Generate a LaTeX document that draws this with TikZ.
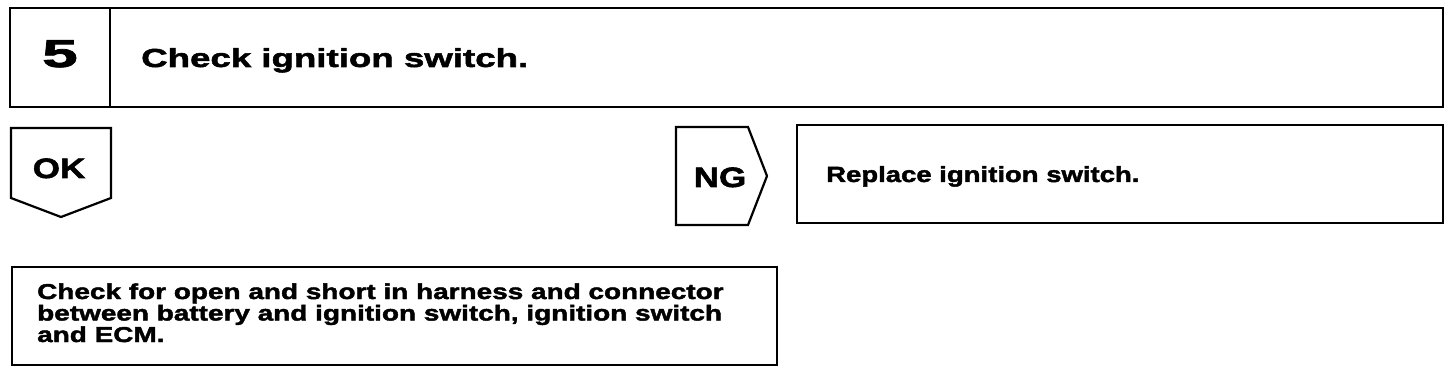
\documentclass[tikz,border=0pt]{standalone}
\usepackage{fontspec}
\setmainfont{Liberation Sans}
\newfontfamily\titlefont[FakeStretch=1.41,BoldFeatures={FakeBold=2}]{Liberation Sans}
\newfontfamily\fivefont[FakeStretch=1.65,BoldFeatures={FakeBold=2}]{Liberation Sans}
\newfontfamily\markfont[FakeStretch=1.25,BoldFeatures={FakeBold=2}]{Liberation Sans}
\newfontfamily\repfont[FakeStretch=1.25,BoldFeatures={FakeBold=2}]{Liberation Sans}
\newfontfamily\botfont[FakeStretch=1.3,BoldFeatures={FakeBold=2}]{Liberation Sans}
\begin{document}
\begin{tikzpicture}[x=1pt,y=-1pt,
  frame/.style={draw=black,line width=2.2pt,line join=miter},
  txt/.style={inner sep=0pt,anchor=base west},
]
\useasboundingbox (0,0) rectangle (1456,374);
% top step box
\draw[frame] (10,8) rectangle (1443,107);
\draw[frame] (110,8) -- (110,107);
\node[inner sep=0pt,anchor=base,font=\fivefont\bfseries\fontsize{39}{39}\selectfont] (num) at (60,67) {5};
\node[txt,font=\titlefont\bfseries\fontsize{26}{26}\selectfont] (title) at (141,67) {Check ignition switch.};
% OK marker
\draw[frame] (11,128) -- (111,128) -- (111,198) -- (61,217) -- (11,198) -- cycle;
\node[inner sep=0pt,anchor=base,font=\markfont\bfseries\fontsize{28}{28}\selectfont] (ok) at (59,178) {OK};
% NG marker
\draw[frame] (676,127) -- (748,127) -- (767,176) -- (748,225) -- (676,225) -- cycle;
\node[inner sep=0pt,anchor=base,font=\markfont\bfseries\fontsize{28}{28}\selectfont] (ng) at (720,187) {NG};
% replace box
\draw[frame] (797,125) rectangle (1443,223);
\node[txt,font=\repfont\bfseries\fontsize{22}{22}\selectfont] (rep) at (826,182) {Replace ignition switch.};
% bottom box
\draw[frame] (12,267) rectangle (777,365);
\node[txt,font=\botfont\bfseries\fontsize{21.5}{21.5}\selectfont] (l1) at (37,299) {Check for open and short in harness and connector};
\node[txt,font=\botfont\bfseries\fontsize{21.5}{21.5}\selectfont] (l2) at (37,320.5) {between battery and ignition switch, ignition switch};
\node[txt,font=\botfont\bfseries\fontsize{21.5}{21.5}\selectfont] (l3) at (37,342) {and ECM.};
\end{tikzpicture}
\end{document}
